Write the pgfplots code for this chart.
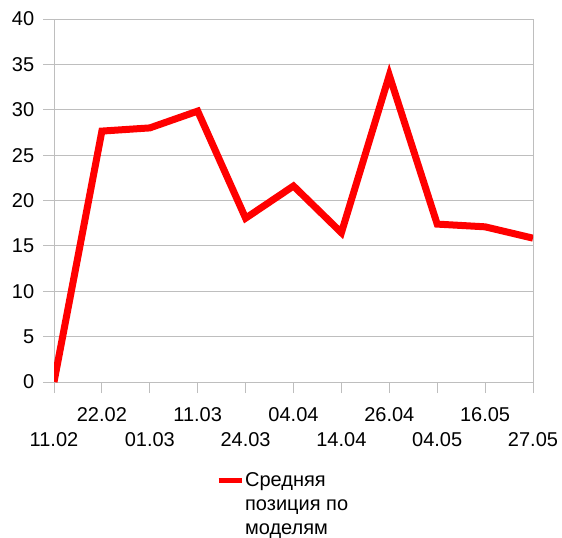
\documentclass[border=0pt]{standalone}
\usepackage{pgfplots}
\pgfplotsset{compat=1.18}
\usepackage{fontspec}
\setmainfont{Liberation Sans}

\definecolor{gridgray}{RGB}{190,190,190}

\begin{document}
\fontsize{20bp}{24bp}\selectfont
\begin{tikzpicture}
\useasboundingbox (0,0) rectangle (562bp,-538bp);
\begin{axis}[
    at={(54bp,-382bp)}, anchor=south west,
    scale only axis, width=479bp, height=363bp,
    xmin=0, xmax=10, ymin=0, ymax=40,
    ytick={0,5,...,40},
    xtick={0,2,4,6,8,10},
    xticklabels={11.02,01.03,24.03,14.04,04.05,27.05},
    extra x ticks={1,3,5,7,9},
    extra x tick labels={22.02,11.03,04.04,26.04,16.05},
    extra x tick style={tick label style={yshift=24.5bp}},
    x tick label style={yshift=-32.5bp},
    y tick label style={xshift=-2bp},
    tick pos=left,
    tick align=outside,
    major tick length=11bp,
    ymajorgrids,
    grid style={gridgray, line width=1bp},
    axis line style={gridgray, line width=1bp},
    tick style={gridgray, line width=1bp},
    /pgf/number format/assume math mode=true,
    tick label style={font=\fontsize{20bp}{24bp}\selectfont, black},
    legend style={at={(0.338,-0.245)}, anchor=north west, draw=none,
        font=\fontsize{20bp}{24bp}\selectfont, inner sep=0pt,
        nodes={inner sep=1bp}},
    legend image code/.code={\draw[line width=5bp, red] (0bp,0bp) -- (23bp,0bp);},
]
\addplot[red, line width=7bp, mark=none] coordinates {
    (0,0) (1,27.65) (2,28.0) (3,29.85) (4,18.05) (5,21.6)
    (6,16.45) (7,33.8) (8,17.4) (9,17.1) (10,15.85)
};
\addlegendentry{\vtop{\hbox{Средняя}\hbox{позиция по}\hbox{моделям}}}
\end{axis}
\end{tikzpicture}
\end{document}
